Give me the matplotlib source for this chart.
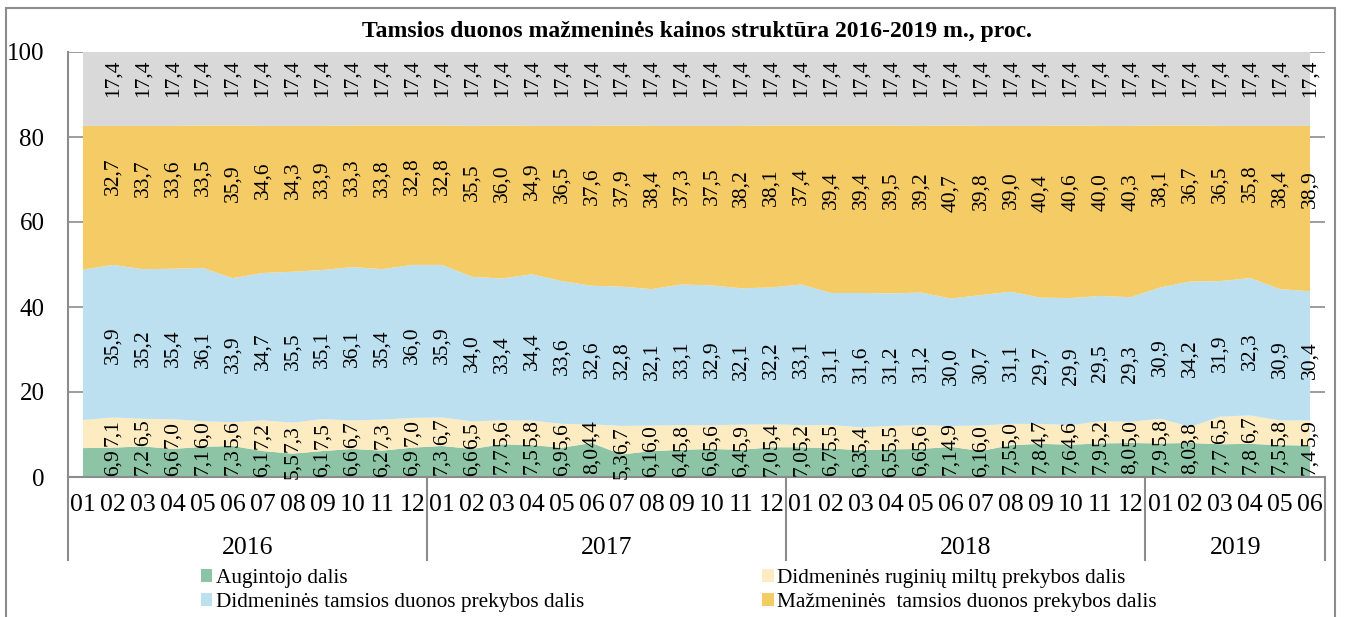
import numpy as np
import matplotlib.pyplot as plt
from matplotlib.patches import Patch
from matplotlib.transforms import blended_transform_factory

plt.rcParams['font.family'] = ['Liberation Serif', 'DejaVu Serif']

# DUOMENYS (2016-01 ... 2019-06)
menesiai = ["01", "02", "03", "04", "05", "06", "07", "08", "09", "10", "11", "12"] * 3 + \
           ["01", "02", "03", "04", "05", "06"]
metai = ["2016", "2017", "2018", "2019"]
metu_ilgiai = [12, 12, 12, 6]

augintojo = [6.8, 6.9, 7.2, 6.6, 7.1, 7.3, 6.1, 5.5, 6.1, 6.6, 6.2, 6.9,
             7.3, 6.6, 7.7, 7.5, 6.9, 8.0, 5.3, 6.1, 6.4, 6.6, 6.4, 7.0,
             7.0, 6.7, 6.3, 6.5, 6.6, 7.1, 6.1, 7.5, 7.8, 7.6, 7.9, 8.0,
             7.9, 8.0, 7.7, 7.8, 7.5, 7.4]
miltu = [6.6, 7.1, 6.5, 7.0, 6.0, 5.6, 7.2, 7.3, 7.5, 6.7, 7.3, 7.0,
         6.7, 6.5, 5.6, 5.8, 5.6, 4.4, 6.7, 6.0, 5.8, 5.6, 5.9, 5.4,
         5.2, 5.5, 5.4, 5.5, 5.6, 4.9, 6.0, 5.0, 4.7, 4.6, 5.2, 5.0,
         5.8, 3.8, 6.5, 6.7, 5.8, 5.9]
didmenine = [35.4, 35.9, 35.2, 35.4, 36.1, 33.9, 34.7, 35.5, 35.1, 36.1, 35.4, 36.0,
             35.9, 34.0, 33.4, 34.4, 33.6, 32.6, 32.8, 32.1, 33.1, 32.9, 32.1, 32.2,
             33.1, 31.1, 31.6, 31.2, 31.2, 30.0, 30.7, 31.1, 29.7, 29.9, 29.5, 29.3,
             30.9, 34.2, 31.9, 32.3, 30.9, 30.4]
mazmenine = [33.8, 32.7, 33.7, 33.6, 33.5, 35.9, 34.6, 34.3, 33.9, 33.3, 33.8, 32.8,
             32.8, 35.5, 36.0, 34.9, 36.5, 37.6, 37.9, 38.4, 37.3, 37.5, 38.2, 38.1,
             37.4, 39.4, 39.4, 39.5, 39.2, 40.7, 39.8, 39.0, 40.4, 40.6, 40.0, 40.3,
             38.1, 36.7, 36.5, 35.8, 38.4, 38.9]
pvm = [17.4] * 42

serijos = [augintojo, miltu, didmenine, mazmenine, pvm]
spalvos = ["#8CC4A5", "#FDEBC1", "#BDE0F0", "#F5CB65", "#D9D9D9"]
pavadinimai = ["Augintojo dalis", "Didmeninės ruginių miltų prekybos dalis",
               "Didmeninės tamsios duonos prekybos dalis",
               "Mažmeninės  tamsios duonos prekybos dalis", None]
poslinkis = [0.0, 0.0, -1.0, 4.5, 2.5]

x = np.arange(len(menesiai))

fig = plt.figure(figsize=(13.45, 6.17), dpi=100)
ax = fig.add_axes([68 / 1345, 1 - 477 / 617, 1257 / 1345, 425 / 617])

ax.stackplot(x, *serijos, colors=spalvos, zorder=2)

# DUOMENŲ ŽYMĖS (pirmas taškas be žymės)
apacia = np.zeros(len(x))
for s, dy in zip(serijos, poslinkis):
    s = np.array(s)
    for i in range(1, len(x)):
        ax.text(x[i], apacia[i] + s[i] / 2 + dy, f"{s[i]:.1f}".replace(".", ","),
                rotation=90, ha="center", va="center", fontsize=15.5, zorder=3)
    apacia = apacia + s

ax.set_xlim(-0.5, len(x) - 0.5)
ax.set_ylim(0, 100)
ax.set_yticks(range(0, 101, 20))
ax.tick_params(axis="y", length=0, labelsize=18, pad=17)
ax.set_xticks(x)
ax.set_xticklabels(menesiai, fontsize=18.5)
ax.tick_params(axis="x", length=0, pad=12)
ax.grid(axis="y", color="#8C8C8C", linewidth=1.2, zorder=0)
for k in ["top", "right"]:
    ax.spines[k].set_visible(False)
for k in ["left", "bottom"]:
    ax.spines[k].set_color("#8C8C8C")
    ax.spines[k].set_linewidth(1.5)

# METŲ GRUPĖS
tr = blended_transform_factory(ax.transData, ax.transAxes)
ribos = np.concatenate([[0], np.cumsum(metu_ilgiai)]) - 0.5
for r in ribos:
    ax.plot([r, r], [0, -0.195], color="#8C8C8C", lw=1.5, transform=tr, clip_on=False)
for m, a, b in zip(metai, ribos[:-1], ribos[1:]):
    ax.text((a + b) / 2, -0.167, m, transform=tr, ha="center", va="center", fontsize=18.5)

ax.set_title("Tamsios duonos mažmeninės kainos struktūra 2016-2019 m., proc.",
             fontsize=17, fontweight="bold", pad=11)

# LEGENDA
tvarka = [0, 2, 1, 3]
rankenos = [Patch(facecolor=spalvos[i], label=pavadinimai[i]) for i in tvarka]
fig.legend(handles=rankenos, loc="upper left", bbox_to_anchor=(190 / 1345, 1 - 558 / 617),
           ncol=2, frameon=False, fontsize=15.3, handlelength=0.55, handleheight=0.55,
           handletextpad=0.15, columnspacing=8.4, labelspacing=0.25, borderpad=0)

# RĖMELIS
fig.add_artist(plt.Rectangle((6 / 1345, -0.1), 1329 / 1345, 1.1 - 8 / 617, fill=False,
                             edgecolor="#8C8C8C", lw=1.5, transform=fig.transFigure))

plt.savefig("out.png", dpi=100)
